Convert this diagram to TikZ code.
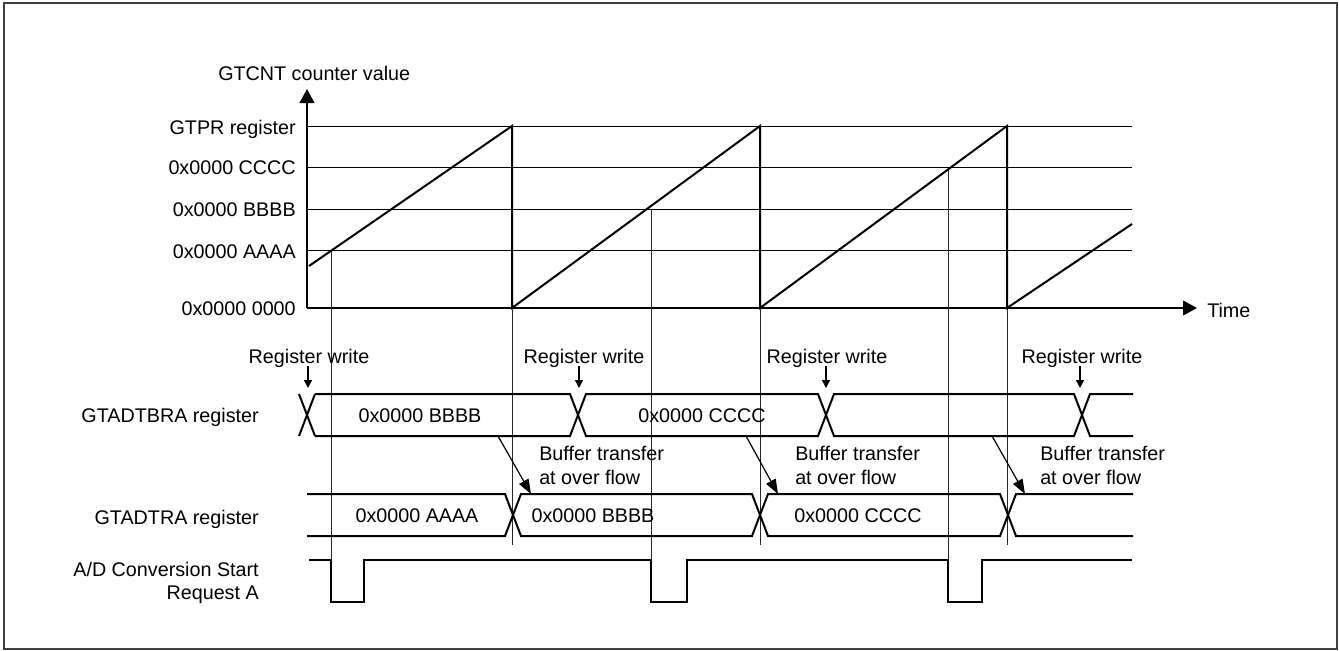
\documentclass[tikz,border=0pt]{standalone}
\usepackage{fontspec}
\setmainfont{Liberation Sans}
\usetikzlibrary{arrows.meta}
\begin{document}
\begin{tikzpicture}[x=0.75pt,y=-0.75pt,
  lbl/.style={font=\fontsize{14.8}{18}\selectfont, inner sep=0pt, text height=10.6pt, text depth=0pt},
  multi/.style={font=\fontsize{14.8}{18}\selectfont, inner sep=0pt},
  gridline/.style={line width=0.75pt},
  guide/.style={line width=0.6pt, draw=black!85},
  sig/.style={line width=1.5pt, line join=miter},
  axisarrow/.style={sig, -{Triangle[length=10.5pt,width=11pt]}},
  writearrow/.style={line width=1.1pt, -{Triangle[length=6pt,width=6pt]}},
  bufarrow/.style={line width=0.9pt, -{Triangle[length=11pt,width=8pt]}}
]
\useasboundingbox (0,0) rectangle (1339,650);
\draw[line width=1.2pt, draw=black!75] (4,3) rectangle (1337,649);

% axes
\coordinate (O) at (307,308);
\coordinate (Ytip) at (307,89);
\coordinate (Xtip) at (1197,308);
\foreach \yy in {126,167,209,250} \draw[gridline] (307,\yy) -- (1132,\yy);
\draw[axisarrow] (O) -- (Ytip);
\draw[axisarrow] (O) -- (Xtip);

\node[lbl, anchor=west] (ylabel) at (218,73) {GTCNT counter value};
\node[lbl, anchor=west] (time) at (1207,310) {Time};
\node[lbl, anchor=east] (lgtpr) at (296,127) {GTPR register};
\node[lbl, anchor=east] (lccc) at (296,167) {0x0000 CCCC};
\node[lbl, anchor=east] (lbbb) at (296,209) {0x0000 BBBB};
\node[lbl, anchor=east] (laaa) at (296,251) {0x0000 AAAA};
\node[lbl, anchor=east] (lzero) at (296,308) {0x0000 0000};

% guide lines
\draw[guide] (331,250) -- (331,560);
\draw[guide] (512,308) -- (512,545);
\draw[guide] (651,209) -- (651,560);
\draw[guide] (760,308) -- (760,545);
\draw[guide] (948,167) -- (948,560);
\draw[guide] (1007,308) -- (1007,545);

% sawtooth
\draw[sig] (309,266) -- (512,126) -- (512,308) -- (760,126) -- (760,308) -- (1007,126) -- (1007,308) -- (1132,224);

% GTADTBRA bus
\draw[sig] (299,394) -- (315,436) (299,436) -- (315,394)
  (315,394) -- (570,394) -- (586,436) -- (818,436) -- (834,394) -- (1074,394) -- (1090,436) -- (1133,436)
  (315,436) -- (570,436) -- (586,394) -- (818,394) -- (834,436) -- (1074,436) -- (1090,394) -- (1133,394);

% GTADTRA bus
\draw[sig] (307,494) -- (505,494) -- (521,536) -- (752,536) -- (768,494) -- (1000,494) -- (1016,536) -- (1133,536)
  (307,536) -- (505,536) -- (521,494) -- (752,494) -- (768,536) -- (1000,536) -- (1016,494) -- (1133,494);

% A/D pulse
\draw[sig] (309,560) -- (331,560) -- (331,602) -- (364,602) -- (364,560) -- (651,560) -- (651,602) -- (687,602) -- (687,560)
  -- (948,560) -- (948,602) -- (982,602) -- (982,560) -- (1132,560);

% left labels
\node[lbl, anchor=east] (ltbra) at (259,415) {GTADTBRA register};
\node[lbl, anchor=east] (ltra) at (259,517) {GTADTRA register};
\node[multi, anchor=north east, align=right, font=\fontsize{14.8}{17.3}\selectfont] (lad) at (259,562) {A/D Conversion Start\\Request A};

% bus data
\node[lbl] (tb1) at (420,415) {0x0000 BBBB};
\node[lbl] (tb2) at (702,415) {0x0000 CCCC};
\node[lbl] (tr1) at (417,515) {0x0000 AAAA};
\node[lbl] (tr2) at (593,515) {0x0000 BBBB};
\node[lbl] (tr3) at (858,515) {0x0000 CCCC};

% register write
\node[lbl] (rw1) at (309,356) {Register write};
\node[lbl] (rw2) at (584,356) {Register write};
\node[lbl] (rw3) at (827,356) {Register write};
\node[lbl] (rw4) at (1082,356) {Register write};
\coordinate (w1a) at (308,366); \coordinate (w1b) at (308,388);
\coordinate (w2a) at (579,366); \coordinate (w2b) at (579,388);
\coordinate (w3a) at (826,366); \coordinate (w3b) at (826,388);
\coordinate (w4a) at (1080,366); \coordinate (w4b) at (1080,388);
\draw[writearrow] (w1a) -- (w1b);
\draw[writearrow] (w2a) -- (w2b);
\draw[writearrow] (w3a) -- (w3b);
\draw[writearrow] (w4a) -- (w4b);

% buffer transfer
\coordinate (b1a) at (498,436); \coordinate (b1b) at (531,494);
\coordinate (b2a) at (746,436); \coordinate (b2b) at (778,494);
\coordinate (b3a) at (992,436); \coordinate (b3b) at (1025,494);
\draw[bufarrow] (b1a) -- (b1b);
\draw[bufarrow] (b2a) -- (b2b);
\draw[bufarrow] (b3a) -- (b3b);
\node[multi, anchor=north west, align=left] (bt1) at (539,446) {Buffer transfer\\at over flow};
\node[multi, anchor=north west, align=left] (bt2) at (795,446) {Buffer transfer\\at over flow};
\node[multi, anchor=north west, align=left] (bt3) at (1040,446) {Buffer transfer\\at over flow};
\end{tikzpicture}
\end{document}
